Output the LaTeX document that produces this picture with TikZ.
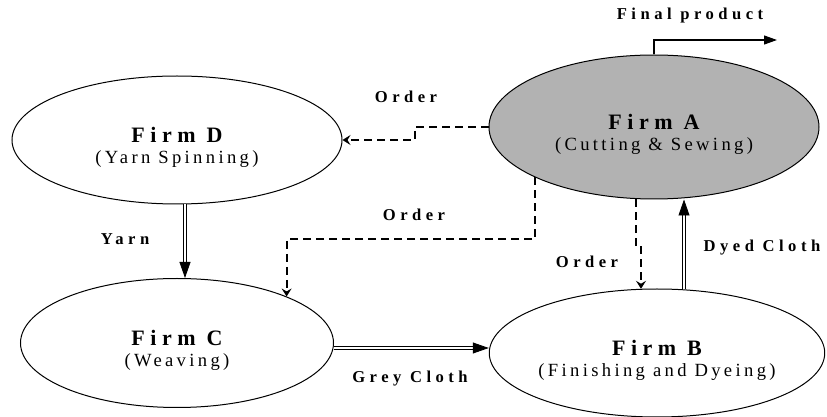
\documentclass[tikz,border=0pt]{standalone}
\usepackage{fontspec}
\setmainfont{Liberation Serif}
\newfontfamily\spaced[LetterSpace=18]{Liberation Serif}
\newfontfamily\titlefont[LetterSpace=25]{Liberation Serif Bold}
\newfontfamily\tagfont[LetterSpace=27]{Liberation Serif Bold}
\usetikzlibrary{shapes.geometric,arrows.meta}
\newcommand{\firmtext}[2]{{\titlefont\fontsize{11}{13}\selectfont\rule{0pt}{15pt}Firm\enspace#1}\\[-2pt](#2)}

\begin{document}
\begin{tikzpicture}[x=0.5pt,y=-0.5pt,
	firm/.style={ellipse,draw,line width=0.5pt,inner sep=0pt,align=center,font=\spaced\fontsize{9.3}{12.5}\selectfont},
	order/.style={line width=1pt,dash pattern=on 4pt off 2.5pt,-{Stealth[length=4pt,width=5pt,inset=1.5pt]}},
	flow/.style={line width=0.4pt,double,double distance=0.8pt,-{Triangle[length=8pt,width=5.5pt]}},
	tag/.style={font=\tagfont\fontsize{8.3}{10}\selectfont}]
	\useasboundingbox (0,0) rectangle (827,417);

	%firms
	\node[firm,fill=black!30,minimum width=165pt,minimum height=72pt] (A) at (654,127) {\firmtext{A}{Cutting \& Sewing}};
	\node[firm,minimum width=153.5pt,minimum height=64pt] (B) at (657,353) {\firmtext{B}{Finishing and Dyeing}};
	\node[firm,minimum width=156.5pt,minimum height=64.5pt] (C) at (177,343) {\firmtext{C}{Weaving}};
	\node[firm,minimum width=165pt,minimum height=64pt] (D) at (177,140) {\firmtext{D}{Yarn Spinning}};
	\coordinate (market) at (777,40); %end of final product

	%orders (dashed)
	\draw[order] (A.west) -- ++(-74,0) |- (D.east); %A to D
	\draw[order] (A.203) -- ++(0,62) -| (C.23); %A to C
	\draw[order] (A.256) -- ++(0,46) -| (B.104); %A to B

	%goods (double)
	\draw[flow] ([xshift=4pt]D.south) -- ([xshift=4pt]D.south |- C.north); %yarn
	\draw[flow] ([yshift=-2.5pt]C.east) -- ([yshift=-2.5pt]C.east -| B.west); %grey cloth
	\draw[flow] (B.67) -- (B.67 |- A.south); %dyed cloth
	\draw[line width=0.6pt,-{Triangle[length=6.5pt,width=4.5pt]}] (A.north) |- (market); %final product

	%labels
	\node[tag] (lfinal) at (690,16) {Final product};
	\node[tag] (lorderD) at (406,97) {Order};
	\node[tag] (lorderC) at (414,215) {Order};
	\node[tag] (lorderB) at (587,262) {Order};
	\node[tag] (ldyed) at (762,248) {Dyed Cloth};
	\node[tag] (lyarn) at (125,239) {Yarn};
	\node[tag] (lgrey) at (410,379) {Grey Cloth};
\end{tikzpicture}
\end{document}
